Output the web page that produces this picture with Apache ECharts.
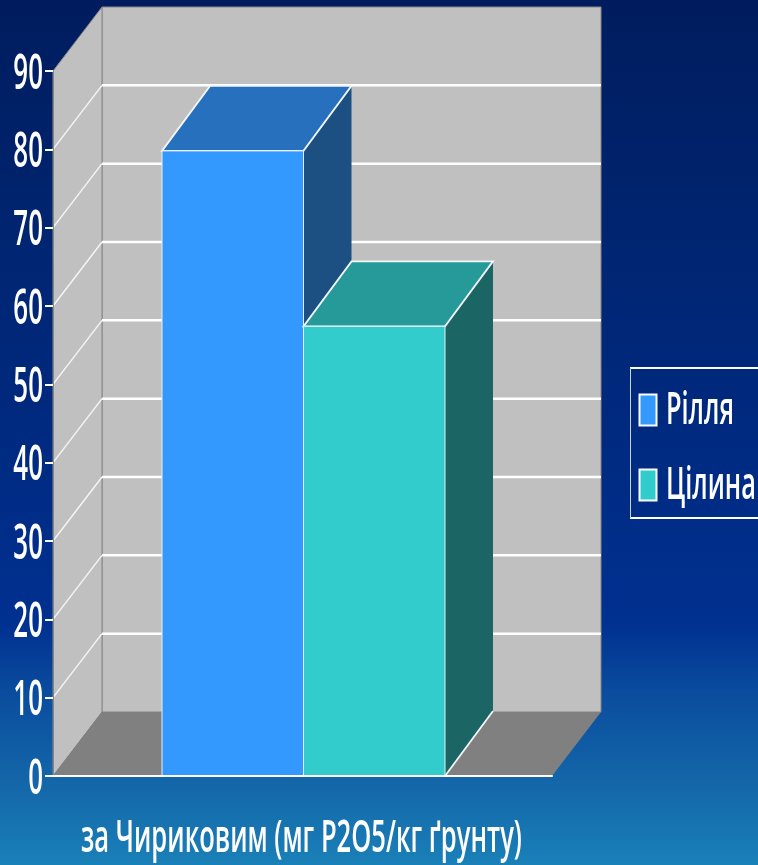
<!DOCTYPE html>
<html>
<head>
<meta charset="utf-8">
<style>html,body{margin:0;padding:0;background:#002a80}#chart{width:758px;height:865px}</style>
<script src="https://cdn.jsdelivr.net/npm/echarts@6/dist/echarts.min.js"></script>
</head>
<body>
<div id="chart"></div>
<script>
// Phosphorus content of soil, Chirikov method
const categories = ['за Чириковим (мг Р2О5/кг ґрунту)'];
const seriesNames = ['Рілля', 'Цілина'];
const rillyaValues = [79.8];
const tsilynaValues = [57.4];
const tickLabels = ['0', '10', '20', '30', '40', '50', '60', '70', '80', '90'];
const tickValues = [0, 10, 20, 30, 40, 50, 60, 70, 80, 90];

// Oblique projection offsets, in pixels: the walls and the bars differ slightly
const DX = 49, DY = 64;
const BAR_DX = 48, BAR_DY = 65;
const BAR_WIDTH = 141.5;
const FONT = '"Open Sans", "Noto Sans", sans-serif';

const palettes = [
  { front: '#3399ff', top: '#2670be', side: '#1c4f82' },
  { front: '#33cccc', top: '#269a98', side: '#1b6664' }
];

const chart = echarts.init(document.getElementById('chart'), null, { renderer: 'canvas' });

function renderWalls(params, api) {
  const c = params.coordSys;
  const l = c.x, r = c.x + c.width, t = c.y, b = c.y + c.height;
  const wall = { fill: '#c0c0c0', stroke: '#868686', lineWidth: 1 };
  return {
    type: 'group',
    children: [
      { type: 'polygon', shape: { points: [[l + DX, t - DY], [r + DX, t - DY], [r + DX, b - DY], [l + DX, b - DY]] }, style: wall },
      { type: 'polygon', shape: { points: [[l, t], [l + DX, t - DY], [l + DX, b - DY], [l, b]] }, style: wall },
      { type: 'polygon', shape: { points: [[l, b], [l + DX, b - DY], [r + DX, b - DY], [r, b]] }, style: { fill: '#808080' } }
    ]
  };
}

function renderGridline(params, api) {
  const v = api.value(0);
  if (v === 0 || v === 90) return null;
  const c = params.coordSys;
  const y = api.coord([0, v])[1];
  return {
    type: 'group',
    children: [
      { type: 'line', shape: { x1: c.x, y1: y, x2: c.x + DX, y2: y - DY }, style: { stroke: '#f4f4f4', lineWidth: 1.5 } },
      { type: 'line', shape: { x1: c.x + DX, y1: y - DY, x2: c.x + c.width + DX, y2: y - DY }, style: { stroke: '#ffffff', lineWidth: 2.5 } }
    ]
  };
}

function makeBarRenderer(index) {
  const pal = palettes[index];
  return function (params, api) {
    const center = api.coord([0, 0])[0];
    const x0 = center - BAR_WIDTH + index * BAR_WIDTH + 1;
    const x1 = x0 + BAR_WIDTH;
    const y1 = api.coord([0, 0])[1];
    const y0 = api.coord([0, api.value(1)])[1];
    const edge = { stroke: '#f2f6fa', lineWidth: 1.8 };
    return {
      type: 'group',
      children: [
        { type: 'polygon', shape: { points: [[x1, y1], [x1 + BAR_DX, y1 - BAR_DY], [x1 + BAR_DX, y0 - BAR_DY], [x1, y0]] }, style: { fill: pal.side } },
        { type: 'polygon', shape: { points: [[x0, y0], [x0 + BAR_DX, y0 - BAR_DY], [x1 + BAR_DX, y0 - BAR_DY], [x1, y0]] }, style: Object.assign({ fill: pal.top }, edge) },
        { type: 'line', shape: { x1: x1, y1: y1, x2: x1 + BAR_DX, y2: y1 - BAR_DY }, style: edge },
        { type: 'rect', shape: { x: x0, y: y0, width: BAR_WIDTH, height: y1 - y0 }, style: { fill: pal.front, stroke: '#e6eef5', lineWidth: 1 } }
      ]
    };
  };
}

function renderTickLabel(params, api) {
  const y = api.coord([0, api.value(0)])[1];
  return {
    type: 'text',
    x: 43,
    y: y + 4,
    scaleX: 0.54,
    style: {
      text: tickLabels[params.dataIndex],
      align: 'right',
      verticalAlign: 'middle',
      fill: '#ffffff',
      font: '600 48px ' + FONT
    }
  };
}

function renderCategoryLabel(params, api) {
  return {
    type: 'text',
    x: 301.5,
    y: 839,
    scaleX: 0.556,
    style: {
      text: categories[0],
      align: 'center',
      verticalAlign: 'middle',
      fill: '#ffffff',
      font: '600 46px ' + FONT
    }
  };
}

// Legend box runs past the right edge of the canvas, so only three sides show
function legendGraphics() {
  const rows = [410, 485];
  const items = [
    { type: 'line', shape: { x1: 630, y1: 368, x2: 758, y2: 368 }, style: { stroke: '#ffffff', lineWidth: 2 } },
    { type: 'line', shape: { x1: 630, y1: 518, x2: 758, y2: 518 }, style: { stroke: '#ffffff', lineWidth: 2 } },
    { type: 'line', shape: { x1: 630.5, y1: 368, x2: 630.5, y2: 518 }, style: { stroke: '#c8d4e4', lineWidth: 1 } }
  ];
  seriesNames.forEach((name, i) => {
    items.push({ type: 'rect', shape: { x: 639.5, y: rows[i] - 15.5, width: 17, height: 31 }, style: { fill: palettes[i].front, stroke: '#ffffff', lineWidth: 2 } });
    items.push({
      type: 'text', x: 666, y: rows[i] + 1, scaleX: 0.55,
      style: { text: name, align: 'left', verticalAlign: 'middle', fill: '#ffffff', font: '600 46px ' + FONT }
    });
  });
  return items;
}

chart.setOption({
  animation: false,
  backgroundColor: new echarts.graphic.LinearGradient(0, 0, 0, 1, [
    { offset: 0, color: '#001c5e' },
    { offset: 0.25, color: '#00246f' },
    { offset: 0.5, color: '#002a80' },
    { offset: 0.72, color: '#003090' },
    { offset: 0.8, color: '#0a4c9e' },
    { offset: 0.9, color: '#1365a8' },
    { offset: 1, color: '#1a80b8' }
  ]),
  grid: { left: 53, top: 71, width: 499, height: 705 },
  xAxis: {
    type: 'category',
    data: categories,
    z: 5,
    axisLine: { lineStyle: { color: '#ffffff', width: 2 } },
    axisTick: { length: 8, lineStyle: { color: '#9fb6cc', width: 1 } },
    axisLabel: { show: false }
  },
  yAxis: {
    type: 'value',
    min: 0,
    max: 90,
    interval: 10,
    z: 5,
    splitLine: { show: false },
    axisLine: { show: true, lineStyle: { color: '#868686', width: 1 } },
    axisTick: { show: true, length: 8, lineStyle: { color: '#ffffff', width: 2 } },
    axisLabel: { show: false }
  },
  graphic: legendGraphics(),
  series: [
    { type: 'custom', name: 'walls', coordinateSystem: 'cartesian2d', z: 1, silent: true, data: [[0, 0]], renderItem: renderWalls },
    { type: 'custom', name: 'grid', coordinateSystem: 'cartesian2d', z: 1, silent: true, data: tickValues.map(v => [v]), renderItem: renderGridline },
    { type: 'custom', name: seriesNames[0], coordinateSystem: 'cartesian2d', z: 2, data: rillyaValues.map((v, i) => [i, v]), encode: { x: 0, y: 1 }, renderItem: makeBarRenderer(0) },
    { type: 'custom', name: seriesNames[1], coordinateSystem: 'cartesian2d', z: 3, data: tsilynaValues.map((v, i) => [i, v]), encode: { x: 0, y: 1 }, renderItem: makeBarRenderer(1) },
    { type: 'custom', name: 'ticks', coordinateSystem: 'cartesian2d', z: 6, silent: true, data: tickValues.map(v => [v]), renderItem: renderTickLabel },
    { type: 'custom', name: 'category', coordinateSystem: 'cartesian2d', z: 6, silent: true, data: [[0]], renderItem: renderCategoryLabel }
  ]
});
</script>
</body>
</html>
